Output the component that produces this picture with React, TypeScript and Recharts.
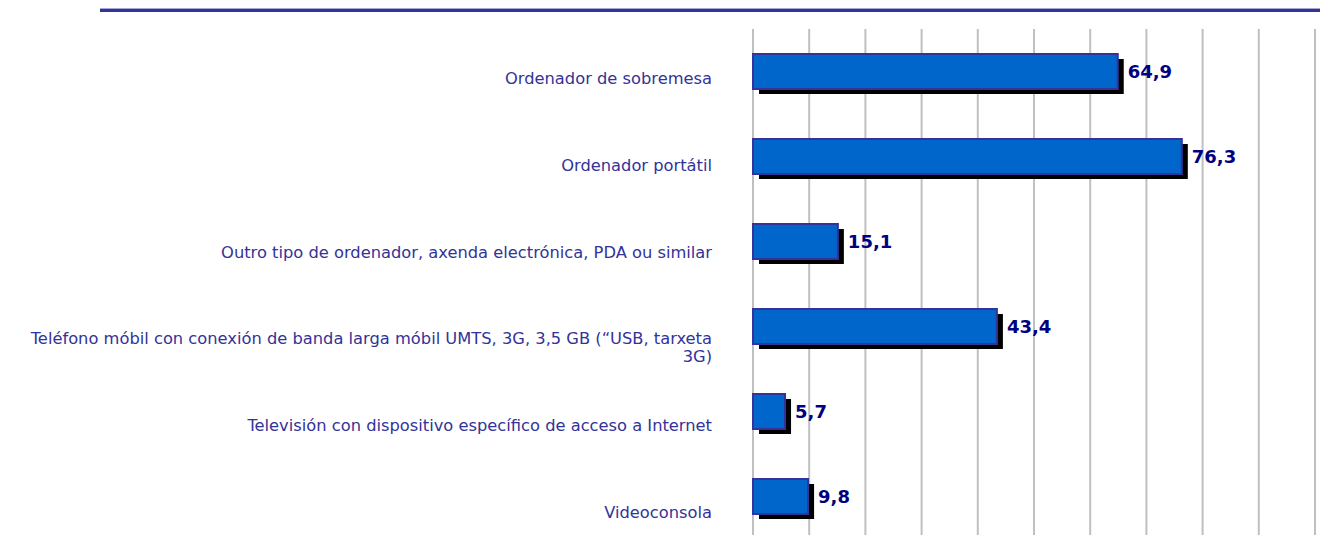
import { BarChart, Bar, XAxis, YAxis, CartesianGrid, LabelList } from "recharts";

const categories = [
  "Ordenador de sobremesa",
  "Ordenador portátil",
  "Outro tipo de ordenador, axenda electrónica, PDA ou similar",
  "Teléfono móbil con conexión de banda larga móbil UMTS, 3G, 3,5 GB (“USB, tarxeta\n3G)",
  "Televisión con dispositivo específico de acceso a Internet",
  "Videoconsola",
];

const values = [64.9, 76.3, 15.1, 43.4, 5.7, 9.8];

const xTicks = [0, 10, 20, 30, 40, 50, 60, 70, 80, 90, 100];

const data = categories.map((name, i) => ({ name, value: values[i] }));

const LABEL_FONT = "'DejaVu Sans', Verdana, sans-serif";

function CategoryTick(props: any) {
  const { x, y, payload, index } = props;
  const lines: string[] = String(payload.value).split("\n");
  // labels sit a little lower than the bar centre, drifting down the chart
  const dy = 7 + index * 1.7;
  return (
    <text
      x={x}
      y={y + dy}
      textAnchor="end"
      fill="#333399"
      fontFamily={LABEL_FONT}
      fontSize={16.3}
    >
      {lines.map((line, i) => (
        <tspan key={i} x={x} dy={i === 0 ? "0.35em" : 18}>
          {line}
        </tspan>
      ))}
    </text>
  );
}

function EmptyTick() {
  return <g />;
}

function ShadowBar(props: any) {
  const { x, y, width, height } = props;
  if (!width || !height) return null;
  return (
    <g>
      <rect x={x + 6} y={y + 5} width={width} height={height} fill="#000000" />
      <rect
        x={x}
        y={y}
        width={width}
        height={height}
        fill="#0066cc"
        stroke="#333399"
        strokeWidth={2}
      />
    </g>
  );
}

function ValueLabel(props: any) {
  const { x, y, width, height, value } = props;
  return (
    <text
      x={x + width + 10}
      y={y + height / 2}
      dy="0.35em"
      fill="#000080"
      fontFamily={LABEL_FONT}
      fontWeight="bold"
      fontSize={18}
    >
      {String(value).replace(".", ",")}
    </text>
  );
}

export default function App() {
  return (
    <div style={{ position: "absolute", left: 0, top: 0, width: 1320, height: 535, overflow: "hidden" }}>
      <div
        style={{
          position: "absolute",
          left: 100,
          top: 8,
          width: 1220,
          height: 3,
          background: "#333399",
          borderTop: "1px solid #a8a8d8",
        }}
      />
      <BarChart
        width={1320}
        height={545}
        data={data}
        layout="vertical"
        margin={{ top: 29, right: 5, bottom: 6, left: 0 }}
        barSize={35}
      >
        <CartesianGrid horizontal={false} stroke="#c0c0c0" strokeWidth={2} />
        <XAxis
          type="number"
          domain={[0, 100]}
          ticks={xTicks}
          tick={<EmptyTick />}
          axisLine={false}
          tickLine={false}
          height={0}
        />
        <YAxis
          type="category"
          dataKey="name"
          width={753}
          axisLine={false}
          tickLine={false}
          tickMargin={35}
          interval={0}
          tick={<CategoryTick />}
        />
        <Bar dataKey="value" isAnimationActive={false} shape={<ShadowBar />}>
          <LabelList dataKey="value" content={<ValueLabel />} />
        </Bar>
      </BarChart>
    </div>
  );
}
